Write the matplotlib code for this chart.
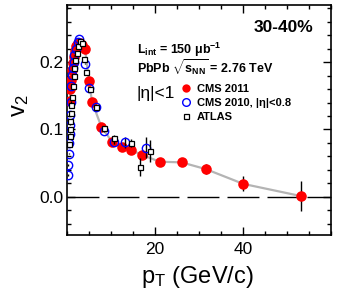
import matplotlib
matplotlib.use("Agg")
import matplotlib.pyplot as plt
from matplotlib.lines import Line2D
from matplotlib.ticker import MultipleLocator, FixedLocator, FormatStrFormatter

plt.rcParams['font.family'] = ['Liberation Sans', 'DejaVu Sans']
plt.rcParams['mathtext.fontset'] = 'custom'
plt.rcParams['mathtext.rm'] = 'Liberation Sans'
plt.rcParams['mathtext.it'] = 'Liberation Sans:italic'
plt.rcParams['mathtext.bf'] = 'Liberation Sans:bold'
plt.rcParams['lines.scale_dashes'] = False

# CMS 2011 (|eta|<1)
cms11_pt = [0.7, 0.9, 1.1, 1.3, 1.5, 1.7, 1.9, 2.2, 2.6, 3.0, 3.6, 4.2, 5.1, 5.8,
            7.9, 10.4, 12.7, 14.7, 17.2, 21.1, 26.1, 31.6, 40.1, 53.1]
cms11_v2 = [0.142, 0.160, 0.174, 0.188, 0.199, 0.208, 0.216, 0.224, 0.228, 0.228,
            0.226, 0.220, 0.172, 0.141, 0.104, 0.081, 0.074, 0.069, 0.062, 0.052,
            0.051, 0.041, 0.019, 0.001]
cms11_err = [0.001, 0.001, 0.001, 0.001, 0.001, 0.001, 0.001, 0.001, 0.001, 0.001,
             0.001, 0.001, 0.002, 0.002, 0.002, 0.003, 0.003, 0.003, 0.004, 0.004,
             0.005, 0.0075, 0.011, 0.023]

# CMS 2010 (|eta|<0.8)
cms10_pt = [0.3, 0.4, 0.5, 0.6, 0.7, 0.8, 0.9, 1.0, 1.1, 1.25, 1.4, 1.6, 1.8, 2.1,
            2.5, 2.9, 4.1, 5.2, 6.6, 8.5, 10.7, 13.2, 18.1]
cms10_v2 = [0.032, 0.047, 0.064, 0.080, 0.093, 0.107, 0.121, 0.141, 0.164, 0.181,
            0.192, 0.200, 0.210, 0.220, 0.230, 0.234, 0.198, 0.161, 0.133, 0.097,
            0.082, 0.081, 0.073]
cms10_err = [0.001] * 20 + [0.003, 0.008, 0.015]

# ATLAS
atlas_pt = [0.6, 0.7, 0.8, 0.9, 1.0, 1.1, 1.2, 1.4, 1.6, 1.8, 2.0, 2.3, 2.6, 3.0,
            3.5, 4.0, 4.5, 5.3, 6.8, 8.6, 10.7, 14.7, 16.7, 18.9]
atlas_v2 = [0.078, 0.090, 0.100, 0.112, 0.124, 0.137, 0.148, 0.165, 0.180, 0.192,
            0.203, 0.213, 0.224, 0.232, 0.228, 0.205, 0.186, 0.160, 0.133, 0.102,
            0.087, 0.080, 0.044, 0.068]
atlas_err = [0.001] * 19 + [0.003, 0.004, 0.006, 0.014, 0.016]

W, H = 340, 294
fig = plt.figure(figsize=(W / 100, H / 100), dpi=100)
L, R, T, B = 66.5, 331, 5, 235
ax = fig.add_axes([L / W, (H - B) / H, (R - L) / W, (B - T) / H])

ax.axhline(0.0, color='black', lw=1.0, linestyle=(0, (23, 5.8)), zorder=1)

ax.plot(cms11_pt, cms11_v2, color='#b4b4b4', lw=1.6, zorder=2)
ax.errorbar(cms11_pt, cms11_v2, yerr=cms11_err, fmt='none', ecolor='black',
            elinewidth=1.0, zorder=3)
ax.plot(cms11_pt, cms11_v2, 'o', color='#ff0000', markersize=7.6,
        markeredgewidth=0, zorder=4)

ax.errorbar(cms10_pt, cms10_v2, yerr=cms10_err, fmt='none', ecolor='black',
            elinewidth=1.0, zorder=5)
ax.plot(cms10_pt, cms10_v2, 'o', markerfacecolor='none', markeredgecolor='#0000ff',
        markersize=6.0, markeredgewidth=1.0, zorder=6)

ax.errorbar(atlas_pt, atlas_v2, yerr=atlas_err, fmt='none', ecolor='black',
            elinewidth=1.0, zorder=7)
ax.plot(atlas_pt, atlas_v2, 's', markerfacecolor='white', markeredgecolor='black',
        markersize=3.6, markeredgewidth=0.9, zorder=8)

ax.set_xlim(0, 60)
ax.set_ylim(-0.057, 0.285)
ax.xaxis.set_major_locator(FixedLocator([20, 40]))
ax.xaxis.set_minor_locator(MultipleLocator(5))
ax.yaxis.set_major_locator(FixedLocator([0.0, 0.1, 0.2]))
ax.yaxis.set_minor_locator(MultipleLocator(0.02))
ax.yaxis.set_major_formatter(FormatStrFormatter('%.1f'))
ax.tick_params(which='both', direction='in', top=True, right=True, width=1.0,
               labelsize=12.5)
ax.tick_params(which='major', length=6)
ax.tick_params(which='minor', length=3)
ax.tick_params(axis='y', pad=2)
ax.tick_params(axis='x', pad=5)
for s in ax.spines.values():
    s.set_linewidth(1.2)

ax.text(0.932, 0.90, '30-40%', transform=ax.transAxes, ha='right', va='center',
        fontsize=12.5, fontweight='bold')
ax.text(0.265, 0.804, r'$\mathbf{L_{int}}$ = 150 μb$^{\mathbf{-1}}$',
        transform=ax.transAxes, ha='left', va='center', fontsize=9, fontweight='bold')
ax.text(0.265, 0.726, r'PbPb $\mathbf{\sqrt{s_{NN}}}$ = 2.76 TeV',
        transform=ax.transAxes, ha='left', va='center', fontsize=9, fontweight='bold')
ax.text(0.265, 0.617, '|η|<1', transform=ax.transAxes, ha='left', va='center',
        fontsize=12.5)

handles = [
    Line2D([], [], ls='none', marker='o', color='#ff0000', markersize=6, markeredgewidth=0),
    Line2D([], [], ls='none', marker='o', markerfacecolor='none', markeredgecolor='#0000ff',
           markersize=5.5, markeredgewidth=1.0),
    Line2D([], [], ls='none', marker='s', markerfacecolor='white', markeredgecolor='black',
           markersize=3.6, markeredgewidth=0.9),
]
labels = ['CMS 2011', 'CMS 2010, |η|<0.8', 'ATLAS']
leg = ax.legend(handles, labels, loc='upper left', bbox_to_anchor=(0.435, 0.655),
                frameon=False, borderpad=0, borderaxespad=0, handlelength=0.8,
                handletextpad=0.6, labelspacing=0.35,
                prop={'weight': 'bold', 'size': 8})

fig.text(197.5 / W, 1 - 276.5 / H, r'p$_{\mathrm{T}}$ (GeV/c)', ha='center', va='center',
         fontsize=17)
fig.text(20 / W, 1 - 106 / H, r'v$_{2}$', ha='center', va='center', rotation=90,
         fontsize=17)

fig.savefig('out.png', dpi=100)
